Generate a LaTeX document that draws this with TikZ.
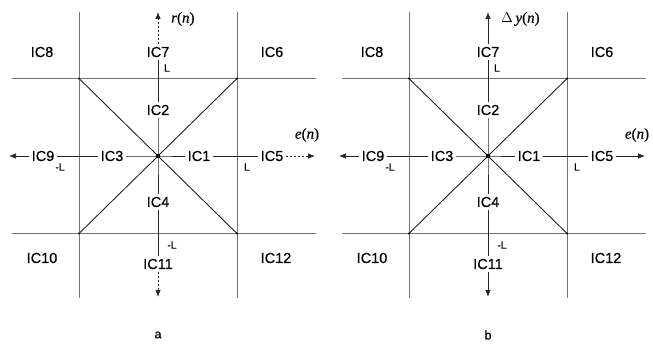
\documentclass[tikz,border=0pt]{standalone}
\usepackage{fontspec}
\setmainfont{Liberation Sans}[FakeBold=0.6]
\newfontfamily\serifit{Liberation Serif}[FakeBold=0.5]
\usetikzlibrary{arrows.meta}
\tikzset{
  lab/.style={font=\fontsize{14.5}{14.5}\selectfont, inner sep=2.5pt},
  ticklab/.style={font=\fontsize{10.5}{10.5}\selectfont, inner sep=0pt},
  axlab/.style={font=\fontsize{15}{15}\selectfont\serifit, inner sep=0pt},
  gridl/.style={draw=black!55, line width=0.65pt},
  diag/.style={draw=black!90, line width=0.85pt},
  axis/.style={draw=black!85, line width=0.75pt},
  tip/.style={-{Latex[length=7pt,width=5.5pt]}},
}
\newcommand\drawpanel[5]{%
\begin{scope}[shift={(#1,156)}, name prefix=#2-, outer/.style={#4}]
  % grid
  \coordinate (c) at (0,0);
  \coordinate (ul) at (-79,-77.5);
  \coordinate (ur) at (79,-77.5);
  \coordinate (ll) at (-79,77.5);
  \coordinate (lr) at (79,77.5);
  \coordinate (v1t) at (-79,-144);
  \coordinate (v1b) at (-79,142);
  \coordinate (v2t) at (79,-144);
  \coordinate (v2b) at (79,142);
  \coordinate (h1l) at (-146,-77.5);
  \coordinate (h1r) at (158,-77.5);
  \coordinate (h2l) at (-146,77.5);
  \coordinate (h2r) at (158,77.5);
  \draw[gridl] (v1t) -- (v1b);
  \draw[gridl] (v2t) -- (v2b);
  \draw[gridl] (h1l) -- (h1r);
  \draw[gridl] (h2l) -- (h2r);
  \draw[diag] (ul) -- (c) -- (lr);
  \draw[diag] (ur) -- (c) -- (ll);
  \fill (c) circle (2.2);
  \foreach \p in {ul,ur,ll,lr} \fill (\p) circle (1.2);
  % labels
  \node[lab] (ic8) at (-116,-104) {IC8};
  \node[lab] (ic7) at (0,-104) {IC7};
  \node[lab] (ic6) at (114,-104) {IC6};
  \node[lab] (ic2) at (0,-46) {IC2};
  \node[lab] (ic9) at (-115,0) {IC9};
  \node[lab] (ic3) at (-46,0) {IC3};
  \node[lab] (ic1) at (41,0) {IC1};
  \node[lab] (ic5) at (114,0) {IC5};
  \node[lab] (ic4) at (0,46) {IC4};
  \node[lab] (ic10) at (-116,102) {IC10};
  \node[lab] (ic11) at (0,108) {IC11};
  \node[lab] (ic12) at (118,102) {IC12};
  \node[ticklab] (tL) at (9,-88) {L};
  \node[ticklab] (tmL) at (-98,11) {-L};
  \node[ticklab] (tR) at (89,11) {L};
  \node[ticklab] (tB) at (14,89) {-L};
  \coordinate (ax-left) at (-149,0);
  \coordinate (ax-right) at (157,0);
  \coordinate (ax-top) at (0,-144);
  \coordinate (ax-bot) at (0,141);
  % axes
  \draw[axis] (ic9.east) -- (ic3.west);
  \draw[axis] (ic3.east) -- (c) -- (ic1.west);
  \draw[axis] (ic1.east) -- (ic5.west);
  \draw[axis] (ic7.south) -- (ic2.north);
  \draw[axis] (ic2.south) -- (c) -- (ic4.north);
  \draw[axis] (ic4.south) -- (ic11.north);
  \draw[axis,tip] (ic9.west) -- (ax-left);
  \draw[axis,tip,outer] (ic5.east) -- (ax-right);
  \draw[axis,tip,outer] (ic7.north) -- (ax-top);
  \draw[axis,tip,outer] (ic11.south) -- (ax-bot);
  \node[axlab, anchor=west] (ylab) at (13,-137) {#3};
  \node[axlab] (xlab) at (149,-21) {\itshape e\upshape(\itshape n\upshape)};
  \node[font=\fontsize{12.5}{12.5}\selectfont] (cap) at (0,179) {#5};
\end{scope}}
\begin{document}
\begin{tikzpicture}[x=1pt,y=-1pt]
\useasboundingbox (0,0) rectangle (653,345);
\drawpanel{158}{a}{\itshape r\upshape(\itshape n\upshape)}{dash pattern=on 2.5pt off 1.5pt}{a}
\drawpanel{488}{b}{$\Delta$\,\itshape y\upshape(\itshape n\upshape)}{}{b}
\end{tikzpicture}
\end{document}
